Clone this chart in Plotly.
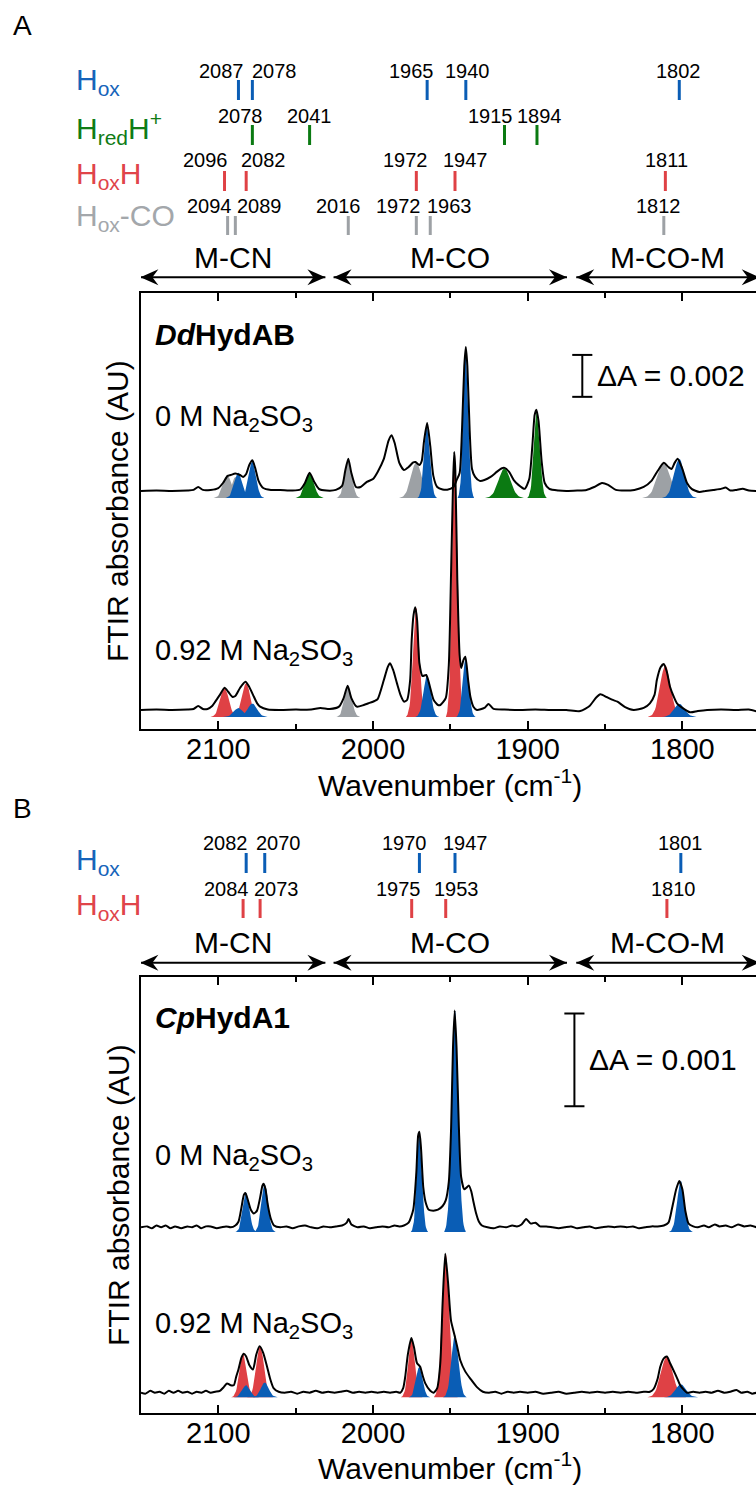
import numpy as np
import plotly.graph_objects as go

# ---------------------------------------------------------------------------
# Spectra: (wavenumber cm-1, absorbance in mAU above the trace baseline)
# ---------------------------------------------------------------------------
dd_0M = [
    (2150, 0.00), (2140, 0.02), (2130, 0.00), (2120, 0.02), (2116, 0.05), (2113, 0.19),
    (2110, 0.05), (2105, 0.05), (2100, 0.14), (2097, 0.38), (2094, 0.72), (2092, 0.76),
    (2089, 0.83), (2086, 0.76), (2084, 0.67), (2082, 0.81), (2080, 1.24), (2078, 1.46),
    (2076, 1.05), (2074, 0.48), (2071, 0.14), (2066, 0.05), (2060, 0.05), (2052, 0.02),
    (2047, 0.07), (2044, 0.38), (2041, 0.87), (2038, 0.43), (2035, 0.10), (2030, 0.02),
    (2024, 0.05), (2020, 0.24), (2018, 0.95), (2016, 1.54), (2014, 0.86), (2011, 0.19),
    (2008, 0.19), (2004, 0.43), (2000, 0.57), (1997, 0.91), (1993, 1.53), (1990, 2.39),
    (1988, 2.66), (1986, 2.29), (1983, 1.34), (1980, 1.00), (1977, 1.14), (1974, 1.36),
    (1972.5, 1.38), (1970, 1.24), (1968.5, 1.43), (1967, 2.39), (1965, 3.24), (1963, 2.15),
    (1961, 0.72), (1958.5, 0.19), (1955, 0.07), (1952, 0.06), (1948, 0.19), (1946, 0.51),
    (1944, 0.86), (1942.5, 2.86), (1941, 5.96), (1940, 6.87), (1939, 5.96), (1937.5, 2.86),
    (1936, 1.05), (1934, 0.67), (1931, 0.48), (1928, 0.52), (1924, 0.67), (1920, 0.91),
    (1917, 1.07), (1915, 1.10), (1912, 0.91), (1909, 0.52), (1906, 0.29), (1902, 0.10),
    (1899, 0.57), (1897, 2.15), (1895.5, 3.63), (1894.4, 3.88), (1893, 3.34), (1891, 1.43),
    (1889, 0.38), (1886, 0.10), (1880, 0.02), (1875, 0.00), (1868, 0.02), (1862, 0.05),
    (1857, 0.19), (1852, 0.38), (1848, 0.29), (1843, 0.05), (1837, 0.02), (1831, 0.05),
    (1825, 0.19), (1820, 0.48), (1816, 0.95), (1812, 1.34), (1809, 1.14), (1807, 1.05),
    (1805, 1.34), (1803, 1.54), (1800, 1.05), (1797, 0.38), (1794, 0.10), (1789, -0.05),
    (1785, 0.00), (1780, 0.05), (1775, 0.10), (1772, 0.16), (1769, 0.02), (1765, 0.05),
    (1761, 0.10), (1757, 0.02), (1752, 0.00),
]

dd_092M = [
    (2150, 0.00), (2140, 0.02), (2130, 0.00), (2120, 0.02), (2116, 0.05), (2113, 0.19),
    (2110, 0.05), (2107, 0.05), (2104, 0.19), (2102, 0.40), (2099, 0.72), (2096, 1.06),
    (2093.5, 0.86), (2091, 0.63), (2089, 0.67), (2086, 1.05), (2082.5, 1.35), (2080, 1.10),
    (2077, 0.63), (2075, 0.33), (2073, 0.16), (2068, 0.02), (2060, 0.00), (2050, 0.02),
    (2040, 0.02), (2034, 0.10), (2028, 0.05), (2022, 0.16), (2019, 0.57), (2016.4, 1.16),
    (2014, 0.57), (2010.5, 0.16), (2006, 0.24), (2003, 0.32), (1999, 0.43), (1997, 0.52),
    (1993, 1.43), (1990.5, 2.05), (1989, 2.23), (1987, 1.91), (1984.5, 1.27), (1982, 0.67),
    (1980, 0.40), (1978, 0.48), (1976, 1.43), (1975, 3.34), (1973.8, 4.53), (1972.7, 4.90),
    (1971.5, 4.29), (1970, 2.23), (1968, 1.62), (1965.6, 1.67), (1963, 1.05), (1960.8, 0.48),
    (1958, 0.24), (1956.5, 0.24), (1953, 0.57), (1951, 2.15), (1949.5, 6.68), (1948.2, 10.97),
    (1947.5, 12.31), (1946.8, 11.45), (1945.5, 6.20), (1944, 2.62), (1943, 2.00), (1941.5, 2.39),
    (1940.3, 2.54), (1938.5, 1.43), (1937, 0.62), (1935, 0.14), (1932.8, 0.00), (1928, 0.10),
    (1925.3, 0.29), (1922, 0.05), (1915, 0.02), (1905, 0.00), (1895, 0.02), (1885, 0.00),
    (1875, 0.00), (1866, -0.05), (1860, 0.19), (1856, 0.57), (1853, 0.75), (1849, 0.62),
    (1845, 0.48), (1842, 0.40), (1837, 0.14), (1831.5, 0.00), (1825, 0.10), (1821, 0.32),
    (1818, 0.72), (1816.5, 1.43), (1814, 2.05), (1812, 2.19), (1810, 1.81), (1808, 1.11),
    (1805.5, 0.62), (1803.5, 0.32), (1800, 0.10), (1795, -0.11), (1790, -0.05), (1784, 0.00),
    (1775, 0.02), (1765, 0.00), (1757, 0.02), (1752, -0.07),
]

cp_0M = [
    (2150, 0.00), (2146, 0.01), (2143, -0.01), (2140, 0.02), (2137, 0.00), (2134, 0.02),
    (2131, -0.01), (2128, 0.01), (2124, -0.01), (2120, 0.01), (2117, 0.00), (2114, 0.02),
    (2111, -0.01), (2108, 0.01), (2105, 0.01), (2101, -0.01), (2098, 0.00), (2095, 0.01),
    (2092, 0.00), (2089, 0.02), (2087, 0.06), (2085, 0.22), (2083.5, 0.35), (2082.5, 0.37),
    (2081, 0.30), (2079, 0.19), (2077, 0.15), (2075, 0.18), (2073, 0.32), (2071.5, 0.45),
    (2070.7, 0.47), (2069.5, 0.41), (2068, 0.24), (2066, 0.09), (2064, 0.02), (2060, 0.00),
    (2056, 0.01), (2052, -0.01), (2048, 0.01), (2044, 0.02), (2040, 0.00), (2036, -0.01),
    (2032, 0.01), (2028, 0.00), (2024, 0.01), (2020, 0.02), (2017, 0.05), (2015.8, 0.09),
    (2014, 0.03), (2010, 0.00), (2006, 0.01), (2002, -0.01), (1998, 0.00), (1994, 0.01),
    (1990, 0.00), (1986, 0.02), (1983, 0.01), (1980, 0.02), (1977, 0.05), (1974, 0.19),
    (1972, 0.59), (1970.8, 0.99), (1970, 1.03), (1969, 0.86), (1967.5, 0.43), (1966, 0.27),
    (1964, 0.19), (1961, 0.18), (1958, 0.19), (1955, 0.23), (1953, 0.29), (1951, 0.49),
    (1949.5, 1.08), (1948.3, 1.94), (1947.2, 2.34), (1946, 1.94), (1944.5, 1.08), (1943, 0.54),
    (1941, 0.41), (1939.5, 0.43), (1938, 0.45), (1936.5, 0.39), (1935, 0.27), (1933.5, 0.16),
    (1931.5, 0.06), (1929.6, 0.02), (1926, 0.00), (1922, -0.01), (1918, 0.01), (1914, 0.00),
    (1910, 0.02), (1907, 0.01), (1904, 0.03), (1901, 0.09), (1898, 0.04), (1895, 0.05),
    (1892, 0.01), (1888, 0.01), (1884, 0.00), (1880, -0.01), (1876, 0.00), (1872, 0.01),
    (1868, -0.01), (1864, 0.00), (1860, 0.01), (1856, -0.01), (1852, 0.00), (1848, 0.01),
    (1844, 0.00), (1840, 0.01), (1836, 0.00), (1832, 0.01), (1828, -0.01), (1824, 0.00),
    (1820, 0.01), (1816, 0.01), (1812, 0.02), (1809, 0.05), (1806.5, 0.22), (1804, 0.41),
    (1802, 0.50), (1800, 0.41), (1798, 0.17), (1796, 0.04), (1793, 0.01), (1790, 0.00),
    (1786, 0.02), (1783, 0.00), (1779, 0.03), (1776, 0.01), (1772, 0.02), (1768, 0.00),
    (1764, 0.03), (1760, 0.01), (1756, 0.02), (1752, 0.00),
]

cp_092M = [
    (2150, 0.00), (2147, -0.01), (2144, 0.02), (2141, 0.00), (2138, 0.01), (2135, -0.01),
    (2132, 0.02), (2129, 0.00), (2126, 0.02), (2123, 0.00), (2120, 0.01), (2117, -0.01),
    (2114, 0.01), (2111, 0.00), (2108, 0.02), (2105, 0.00), (2102, 0.01), (2099, 0.02),
    (2096.5, 0.06), (2094.4, 0.10), (2092, 0.08), (2090, 0.08), (2088.5, 0.17), (2087, 0.25),
    (2085, 0.38), (2083.6, 0.42), (2082, 0.39), (2080, 0.30), (2077.6, 0.25), (2075.5, 0.41),
    (2073.3, 0.50), (2071, 0.43), (2068.5, 0.28), (2066.5, 0.15), (2064.3, 0.05), (2061, 0.01),
    (2057, 0.00), (2053, 0.01), (2049, -0.01), (2045, 0.01), (2041, 0.00), (2037, 0.02),
    (2033, 0.00), (2029, 0.01), (2025, 0.00), (2021, 0.01), (2017, 0.02), (2013, 0.00),
    (2009, 0.01), (2005, 0.00), (2001, 0.01), (1997, 0.00), (1993, 0.01), (1989, 0.00),
    (1985, 0.01), (1982.4, 0.00), (1980.5, 0.05), (1979.2, 0.17), (1977.5, 0.41), (1975.2, 0.59),
    (1973.5, 0.49), (1971.6, 0.32), (1969.5, 0.28), (1968, 0.19), (1966.2, 0.10), (1963, 0.02),
    (1960.8, 0.00), (1958.5, 0.05), (1956.5, 0.32), (1955, 0.97), (1953.3, 1.50), (1951.5, 1.19),
    (1949.6, 0.78), (1947.3, 0.62), (1945.5, 0.49), (1943.6, 0.35), (1940.4, 0.23), (1937, 0.15),
    (1932.8, 0.06), (1929, 0.01), (1925, 0.00), (1921, 0.01), (1917, -0.01), (1913, 0.01),
    (1909, 0.00), (1905, 0.01), (1900, 0.00), (1895, 0.01), (1890, -0.01), (1885, 0.00),
    (1880, 0.01), (1875, -0.01), (1870, 0.00), (1865, 0.01), (1860, 0.00), (1855, 0.01),
    (1850, 0.00), (1845, 0.01), (1840, 0.00), (1835, 0.01), (1830, 0.00), (1825, 0.01),
    (1821, 0.01), (1818.6, 0.04), (1816, 0.15), (1814.3, 0.28), (1812, 0.37), (1810, 0.39),
    (1808, 0.32), (1805.7, 0.24), (1803.5, 0.16), (1801.4, 0.08), (1799, 0.03), (1797, 0.00),
    (1793, 0.01), (1789, 0.00), (1785, 0.01), (1781, 0.00), (1777, 0.02), (1773, 0.00),
    (1769, 0.01), (1765, 0.03), (1762, 0.00), (1758, 0.01), (1755, -0.01), (1752, 0.00),
]

# Fitted Gaussian bands: (species, centre cm-1, height mAU, FWHM cm-1)
dd_0M_bands = [
    ("Hox-CO", 2094, 1.10, 6.5), ("Hox-CO", 2089, 1.00, 5.0), ("Hox-CO", 2016, 1.85, 5.5),
    ("Hox-CO", 1972, 1.70, 8.0), ("Hox-CO", 1812, 1.65, 10.0),
    ("HredH+", 2041, 1.20, 6.5), ("HredH+", 1915, 1.40, 9.0), ("HredH+", 1894, 4.15, 4.5),
    ("Hox", 2087, 1.20, 6.0), ("Hox", 2078, 1.75, 5.5), ("Hox", 1965, 3.50, 4.5),
    ("Hox", 1940, 7.20, 3.8), ("Hox", 1802, 1.85, 8.0),
]
dd_092M_bands = [
    ("Hox-CO", 2016, 1.45, 5.5),
    ("HoxH", 2096, 1.38, 6.5), ("HoxH", 2082, 1.62, 6.0), ("HoxH", 1972, 5.20, 4.8),
    ("HoxH", 1947, 12.60, 4.2), ("HoxH", 1811, 2.45, 8.0),
    ("Hox", 2087, 0.42, 7.0), ("Hox", 2078, 0.64, 7.0), ("Hox", 1965, 1.97, 5.5),
    ("Hox", 1940, 2.85, 4.5), ("Hox", 1802, 0.62, 8.0),
]
cp_0M_bands = [
    ("Hox", 2082, 0.42, 5.0), ("Hox", 2070, 0.52, 5.0), ("Hox", 1970, 1.08, 4.0),
    ("Hox", 1947, 2.39, 5.0), ("Hox", 1801, 0.55, 5.5),
]
cp_092M_bands = [
    ("HoxH", 2084, 0.47, 5.5), ("HoxH", 2073, 0.55, 6.0), ("HoxH", 1975, 0.64, 5.0),
    ("HoxH", 1953, 1.55, 5.5), ("HoxH", 1810, 0.44, 9.0),
    ("Hox", 2082, 0.13, 6.0), ("Hox", 2070, 0.16, 6.0), ("Hox", 1970, 0.33, 5.0),
    ("Hox", 1947, 0.67, 5.5), ("Hox", 1801, 0.14, 8.0),
]

# Band positions listed above each panel (cm-1)
dd_markers = [
    ("Hox", [2087, 2078, 1965, 1940, 1802]),
    ("HredH+", [2078, 2041, 1915, 1894]),
    ("HoxH", [2096, 2082, 1972, 1947, 1811]),
    ("Hox-CO", [2094, 2089, 2016, 1972, 1963, 1812]),
]
cp_markers = [
    ("Hox", [2082, 2070, 1970, 1947, 1801]),
    ("HoxH", [2084, 2073, 1975, 1953, 1810]),
]

# Spectral regions (cm-1)
regions = [("M-CN", 2150.4, 2030.8), ("M-CO", 2025.5, 1874.6), ("M-CO-M", 1868.6, 1750.0)]

x_ticks = [2100, 2000, 1900, 1800]
x_minor = [2050, 1950, 1850]
scale_bar_A = 2.0   # mAU  (0.002)
scale_bar_B = 1.0   # mAU  (0.001)

# ---------------------------------------------------------------------------
# Styling / layout
# ---------------------------------------------------------------------------
W, H = 756, 1488
FONT = "Liberation Sans, Arial, sans-serif"
BAND_COL = {"Hox": "#0a5db5", "HredH+": "#0b7a12", "HoxH": "#df4145", "Hox-CO": "#9da1a5"}
TEXT_COL = {"Hox": "#1664ba", "HredH+": "#0f7c16", "HoxH": "#e0444a", "Hox-CO": "#a3a7ab"}
SPECIES_HTML = {"Hox": "H<sub>ox</sub>", "HredH+": "H<sub>red</sub>H<sup>+</sup>",
                "HoxH": "H<sub>ox</sub>H", "Hox-CO": "H<sub>ox</sub>-CO"}
BAND_ORDER = ["Hox-CO", "HoxH", "HredH+", "Hox"]
ARROW_HEAD = "M0,0 L{b},8 L{n},0 L{b},-8 Z"   # stealth head, pixel units


def xp(px):
    return px / W


def yp(py):
    return 1 - py / H


panels = [
    dict(xa="x", ya="y", top=293, bottom=729, yrange=[-0.906, 19.894], band_base=-0.33,
         traces=[(dd_0M, dd_0M_bands, 10.45), (dd_092M, dd_092M_bands, 0.0)],
         title="<b><i>Dd</i>HydAB</b>", title_y=334,
         labels=[("0 M Na<sub>2</sub>SO<sub>3</sub>", 418), ("0.92 M Na<sub>2</sub>SO<sub>3</sub>", 652)],
         bar=scale_bar_A, bar_x=1864.7, bar_y0=14.94, bar_text="ΔA = 0.002",
         letter="A", letter_y=26,
         markers=dd_markers,
         rows=[(71, 80, 100, 82), (116, 125, 145, 128), (160, 171, 191, 175), (206, 216, 235, 218)],
         shifts=[[-17, 22, -16, 2, -1], [-12, 0, -14, 3], [-19.5, 17, -11, 10, 1],
                 [-18, 24.5, -10, -18, 19.5, -5.5]],
         arrow_y=277.3, region_y=258, xtitle_bottom=804, ytitle_y=511),
    dict(xa="x2", ya="y2", top=977.3, bottom=1412.7, yrange=[-0.2157, 4.481], band_base=-0.05,
         traces=[(cp_0M, cp_0M_bands, 1.784), (cp_092M, cp_092M_bands, 0.0)],
         title="<b><i>Cp</i>HydA1</b>", title_y=1017,
         labels=[("0 M Na<sub>2</sub>SO<sub>3</sub>", 1157), ("0.92 M Na<sub>2</sub>SO<sub>3</sub>", 1325)],
         bar=scale_bar_B, bar_x=1869.8, bar_y0=3.09, bar_text="ΔA = 0.001",
         letter="B", letter_y=808,
         markers=cp_markers,
         rows=[(842.5, 853, 873, 861), (889, 899, 918, 906)],
         shifts=[[-20.5, 14, -14.5, 10, 0], [-17, 16.5, -13.5, 11, 7]],
         arrow_y=962.7, region_y=942.5, xtitle_bottom=1487, ytitle_y=1195),
]

fig = go.Figure()
shapes, annotations = [], []
layout_axes = {}

for i, p in enumerate(panels):
    sfx = "" if i == 0 else "2"
    xa, ya = p["xa"], p["ya"]

    # fitted bands underneath the measured traces
    for data, bands, off in p["traces"]:
        for sp in BAND_ORDER:
            for s, c, h, fw in bands:
                if s != sp:
                    continue
                xs = np.linspace(c - 1.4 * fw, c + 1.4 * fw, 41)
                base = off + p["band_base"]
                ys = base + h * np.exp(-4 * np.log(2) * ((xs - c) / fw) ** 2)
                fig.add_trace(go.Scatter(
                    x=np.concatenate([[xs[0]], xs, [xs[-1]]]),
                    y=np.concatenate([[base], ys, [base]]),
                    mode="lines", fill="toself", fillcolor=BAND_COL[s],
                    line=dict(width=0, color=BAND_COL[s]), hoverinfo="skip",
                    showlegend=False, xaxis=xa, yaxis=ya))
    for data, bands, off in p["traces"]:
        wn, a = zip(*data)
        fig.add_trace(go.Scatter(
            x=list(wn), y=[v + off for v in a], mode="lines",
            line=dict(color="black", width=2, shape="spline", smoothing=0.6),
            showlegend=False, xaxis=xa, yaxis=ya))

    dom_y = [yp(p["bottom"]), yp(p["top"])]
    layout_axes["xaxis" + sfx] = dict(
        domain=[xp(141), 1], range=[2150, 1752.4], anchor=ya,
        showline=True, linecolor="black", linewidth=2, mirror="ticks",
        ticks="inside", ticklen=8, tickwidth=2, tickcolor="black",
        tickmode="array", tickvals=x_ticks, ticktext=[str(t) for t in x_ticks],
        minor=dict(tickmode="array", tickvals=x_minor, ticks="inside", ticklen=5,
                   tickwidth=2, tickcolor="black"),
        tickfont=dict(family=FONT, size=29, color="black"),
        showgrid=False, zeroline=False, ticklabelstandoff=-7)
    layout_axes["yaxis" + sfx] = dict(
        domain=dom_y, range=p["yrange"], anchor=xa,
        showline=True, linecolor="black", linewidth=2, ticks="",
        showticklabels=False, showgrid=False, zeroline=False)

    # scale bar
    bx, b0, b1 = p["bar_x"], p["bar_y0"], p["bar_y0"] + p["bar"]
    for x0, y0, x1, y1 in [(bx, b0, bx, b1), (bx - 6.5, b0, bx + 6.5, b0), (bx - 6.5, b1, bx + 6.5, b1)]:
        shapes.append(dict(type="line", xref=xa, yref=ya, x0=x0, y0=y0, x1=x1, y1=y1,
                           line=dict(color="black", width=2)))
    annotations.append(dict(xref=xa, yref=ya, x=bx, xshift=13, y=(b0 + b1) / 2,
                            text=p["bar_text"], showarrow=False, xanchor="left",
                            yanchor="middle", font=dict(family=FONT, size=30, color="black")))

    # sample labels inside the frame
    annotations.append(dict(xref="paper", yref="paper", x=xp(153), y=yp(p["title_y"]),
                            text=p["title"], showarrow=False, xanchor="left", yanchor="middle",
                            font=dict(family=FONT, size=30, color="black")))
    for txt, yy in p["labels"]:
        annotations.append(dict(xref="paper", yref="paper", x=xp(153), y=yp(yy), text=txt,
                                showarrow=False, xanchor="left", yanchor="middle",
                                font=dict(family=FONT, size=29, color="black")))

    # panel letter
    annotations.append(dict(xref="paper", yref="paper", x=xp(22), y=yp(p["letter_y"]),
                            text=p["letter"], showarrow=False, xanchor="center", yanchor="middle",
                            font=dict(family=FONT, size=28, color="black")))

    # axis titles
    annotations.append(dict(xref="paper", yref="paper", x=xp(450), y=yp(p["xtitle_bottom"]),
                            text="Wavenumber (cm<sup>-1</sup>)", showarrow=False,
                            xanchor="center", yanchor="bottom",
                            font=dict(family=FONT, size=30, color="black")))
    annotations.append(dict(xref="paper", yref="paper", x=xp(118), y=yp(p["ytitle_y"]),
                            text="FTIR absorbance (AU)", showarrow=False, textangle=-90,
                            xanchor="center", yanchor="middle",
                            font=dict(family=FONT, size=30, color="black")))

    # band-position markers above the frame
    for (sp, vals), (num_y, t0, t1, lab_y), shifts in zip(p["markers"], p["rows"], p["shifts"]):
        annotations.append(dict(xref="paper", yref="paper", x=xp(74), y=yp(lab_y),
                                text=SPECIES_HTML[sp], showarrow=False, xanchor="left",
                                yanchor="middle",
                                font=dict(family=FONT, size=30, color=TEXT_COL[sp])))
        for v, dx in zip(vals, shifts):
            shapes.append(dict(type="line", xref=xa, yref="paper", x0=v, x1=v,
                               y0=yp(t0), y1=yp(t1),
                               line=dict(color=BAND_COL[sp], width=3)))
            annotations.append(dict(xref=xa, yref="paper", x=v, xshift=dx, y=yp(num_y),
                                    text=str(v), showarrow=False, xanchor="center",
                                    yanchor="middle",
                                    font=dict(family=FONT, size=20, color="black")))

    # spectral region double arrows
    for name, w0, w1 in regions:
        ya_paper = yp(p["arrow_y"])
        shapes.append(dict(type="line", xref=xa, yref="paper", x0=w0, x1=w1,
                           y0=ya_paper, y1=ya_paper, line=dict(color="black", width=2)))
        # w0 is the higher wavenumber (left end), w1 the lower (right end)
        for tip, d in [(w0, -1), (w1, 1)]:
            shapes.append(dict(type="path", xref=xa, yref="paper",
                               xsizemode="pixel", xanchor=tip,
                               ysizemode="pixel", yanchor=ya_paper,
                               path=ARROW_HEAD.format(b=-d * 18, n=-d * 12),
                               fillcolor="black", line=dict(width=0)))
        annotations.append(dict(xref=xa, yref="paper", x=(w0 + w1) / 2, y=yp(p["region_y"]),
                                text=name, showarrow=False, xanchor="center", yanchor="middle",
                                font=dict(family=FONT, size=30, color="black")))

fig.update_layout(
    width=W, height=H, margin=dict(l=0, r=0, t=0, b=0),
    paper_bgcolor="white", plot_bgcolor="white",
    shapes=shapes, annotations=annotations, showlegend=False,
    **layout_axes)

fig.write_html("out.html")
